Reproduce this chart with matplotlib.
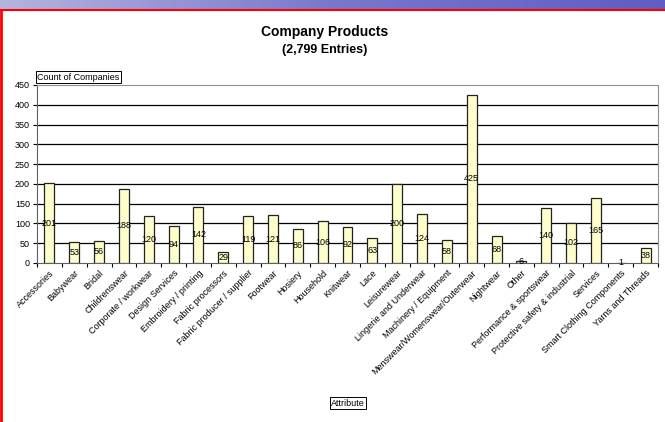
import matplotlib.pyplot as plt
import numpy as np

plt.rcParams['font.family'] = ['Liberation Sans', 'DejaVu Sans']

categories = [
    'Accessories', 'Babywear', 'Bridal', 'Childrenswear', 'Corporate / workwear',
    'Design Services', 'Embroidery / printing', 'Fabric processors',
    'Fabric producer / supplier', 'Footwear', 'Hosiery', 'Household', 'Knitwear',
    'Lace', 'Leisurewear', 'Lingerie and Underwear', 'Machinery / Equipment',
    'Menswear/Womenswear/Outerwear', 'Nightwear', 'Other',
    'Performance & sportswear', 'Protective safety & industrial', 'Services',
    'Smart Clothing Components', 'Yarns and Threads',
]
counts = [201, 53, 56, 188, 120, 94, 142, 29, 119, 121, 86, 106, 92,
          63, 200, 124, 58, 425, 68, 6, 140, 102, 165, 1, 38]
y_ticks = [0, 50, 100, 150, 200, 250, 300, 350, 400, 450]

fig = plt.figure(figsize=(6.65, 4.22), dpi=100)

# banner strip and red frame along the top and left
banner = fig.add_axes([0, 1 - 9 / 422, 1, 9 / 422])
grad = np.linspace(0, 1, 256).reshape(1, -1)
banner.imshow(grad, aspect='auto', extent=[0, 1, 0, 1],
              cmap=plt.matplotlib.colors.LinearSegmentedColormap.from_list(
                  'ban', ['#b4b4e0', '#7878cc', '#5e5ec4']))
banner.axis('off')
fig.add_artist(plt.Line2D([0, 1], [1 - 10 / 422, 1 - 10 / 422], color='red', lw=1.5))
fig.add_artist(plt.Line2D([0.0015, 0.0015], [0, 1 - 10 / 422], color='red', lw=2))

ax = fig.add_axes([37 / 665, 1 - 263 / 422, 621 / 665, 178 / 422])
x = np.arange(len(categories))
ax.bar(x, counts, width=0.4, color='#ffffcc', edgecolor='#222222', linewidth=0.9, zorder=3)
for xi, v in zip(x, counts):
    ax.text(xi, v / 2, str(v), ha='center', va='center', fontsize=6.5, zorder=4)

ax.set_xlim(-0.5, len(categories) - 0.5)
ax.set_ylim(0, 450)
ax.set_yticks(y_ticks)
ax.tick_params(axis='y', labelsize=6.5, length=3, width=0.8, pad=2)
for v in y_ticks[1:-1]:
    ax.axhline(v, color='black', lw=0.9, zorder=1)

ax.set_xticks(np.arange(len(categories) + 1) - 0.5, minor=False)
ax.set_xticklabels([])
ax.set_xticks(x, minor=True)
ax.set_xticklabels(categories, minor=True, rotation=45, ha='right',
                   rotation_mode='anchor', fontsize=6.5)
ax.tick_params(axis='x', which='major', length=3, width=0.8)
ax.tick_params(axis='x', which='minor', length=0, pad=4)

for side in ['top', 'right']:
    ax.spines[side].set_color('#909090')
for side in ['left', 'bottom']:
    ax.spines[side].set_color('#606060')

fig.text(325 / 665, 1 - 32 / 422, 'Company Products', ha='center', va='center',
         fontsize=10, fontweight='bold')
fig.text(325 / 665, 1 - 50 / 422, '(2,799 Entries)', ha='center', va='center',
         fontsize=9, fontweight='bold')

box = dict(boxstyle='square,pad=0.15', facecolor='white', edgecolor='black', lw=0.7)
fig.text(37 / 665, 1 - 77 / 422, 'Count of Companies', ha='left', va='center',
         fontsize=6.5, bbox=box)
fig.text(348 / 665, 1 - 403 / 422, 'Attribute', ha='center', va='center',
         fontsize=6.5, bbox=box)

fig.savefig('out.png', dpi=100)
